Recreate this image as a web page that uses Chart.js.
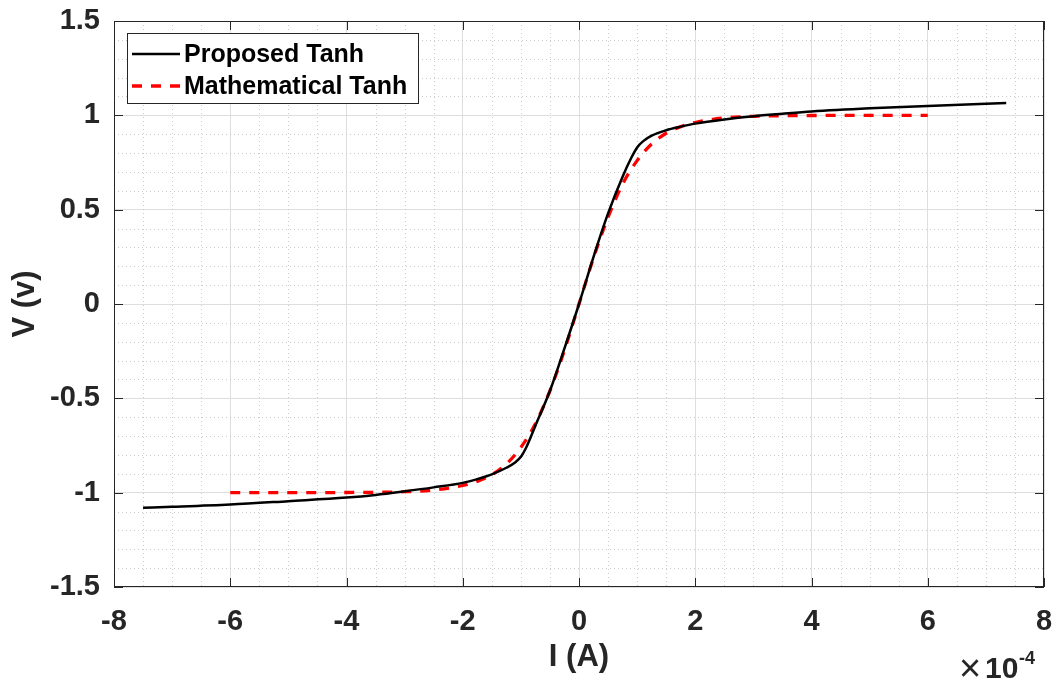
<!DOCTYPE html>
<html>
<head>
<meta charset="utf-8">
<script src="https://cdn.jsdelivr.net/npm/chart.js@4/dist/chart.umd.min.js"></script>
<style>
  html, body { margin: 0; padding: 0; background: #ffffff; }
  #wrap { width: 1059px; height: 684px; }
</style>
</head>
<body>
<div id="wrap"><canvas id="c" width="1059" height="684"></canvas></div>
<script>
// Current (×1e-4 A) and output voltage of the proposed tanh circuit
const xProposed = [-7.5, -7, -6, -5, -4, -3.5, -3, -2.5, -2, -1.75, -1.5, -1.25, -1.1, -1, -0.9, -0.75, -0.5, -0.25, 0,
                   0.25, 0.5, 0.75, 0.9, 1, 1.1, 1.25, 1.5, 1.75, 2, 2.5, 3, 3.5, 4, 5, 6, 7, 7.35];
const yProposed = [-1.08, -1.075, -1.063, -1.045, -1.026, -1.012, -0.993, -0.972, -0.948, -0.928, -0.903, -0.868, -0.84, -0.81, -0.755, -0.645, -0.46, -0.235, 0.0,
                   0.25, 0.48, 0.675, 0.775, 0.83, 0.862, 0.892, 0.921, 0.94, 0.956, 0.978, 0.995, 1.008, 1.02, 1.037, 1.05, 1.062, 1.066];

// Reference curve: mathematical tanh
const xMath = [-6, -5, -4, -3, -2.5, -2, -1.75, -1.5, -1.25, -1, -0.75, -0.5, -0.25, 0,
               0.25, 0.5, 0.75, 1, 1.25, 1.5, 1.75, 2, 2.5, 3, 4, 5, 6];
const yMath = [-1.0, -1.0, -0.999, -0.995, -0.986, -0.962, -0.94, -0.905, -0.848, -0.76, -0.635, -0.46, -0.245, 0,
               0.245, 0.46, 0.635, 0.76, 0.848, 0.905, 0.94, 0.962, 0.986, 0.995, 0.999, 1.0, 1.0];

const seriesNames = ['Proposed Tanh', 'Mathematical Tanh'];

const xTicks = [-8, -6, -4, -2, 0, 2, 4, 6, 8];
const xTickLabels = ['-8', '-6', '-4', '-2', '0', '2', '4', '6', '8'];
const yTicks = [-1.5, -1, -0.5, 0, 0.5, 1, 1.5];
const yTickLabels = ['-1.5', '-1', '-0.5', '0', '0.5', '1', '1.5'];

const xTitle = 'I (A)';
const yTitle = 'V (v)';
const exponentBase = '10';
const exponentPower = '-4';

const FONT = "'Liberation Sans', Arial, Helvetica, sans-serif";
const AXIS_COLOR = '#262626';

const toPoints = (xs, ys) => xs.map((x, i) => ({ x: x, y: ys[i] }));

// Minor grid, axes box with inward ticks, legend and exponent label
const framePlugin = {
  id: 'frame',
  beforeDatasetsDraw(chart) {
    const { ctx, chartArea: a, scales: { x, y } } = chart;
    ctx.save();
    ctx.strokeStyle = '#cacaca';
    ctx.lineWidth = 1;
    ctx.setLineDash([1, 3]);
    for (let i = 0; i <= 32; i++) {
      if (i % 4 === 0) continue;
      const v = -8 + i * 0.5;
      const px = Math.round(x.getPixelForValue(v)) + 0.5;
      ctx.beginPath(); ctx.moveTo(px, a.top); ctx.lineTo(px, a.bottom); ctx.stroke();
    }
    for (let i = 0; i <= 30; i++) {
      if (i % 5 === 0) continue;
      const v = -1.5 + i * 0.1;
      const py = Math.round(y.getPixelForValue(v)) + 0.5;
      ctx.beginPath(); ctx.moveTo(a.left, py); ctx.lineTo(a.right, py); ctx.stroke();
    }
    ctx.restore();
  },
  afterDatasetsDraw(chart) {
    const { ctx, chartArea: a, scales: { x, y } } = chart;
    ctx.save();
    // axes box
    ctx.strokeStyle = AXIS_COLOR;
    ctx.lineWidth = 1;
    ctx.setLineDash([]);
    ctx.strokeRect(a.left + 0.5, a.top + 0.5, a.right - a.left - 1, a.bottom - a.top - 1);
    // inward tick marks on all four sides
    const tl = 9;
    ctx.beginPath();
    xTicks.forEach(v => {
      const px = Math.round(x.getPixelForValue(v)) + 0.5;
      ctx.moveTo(px, a.bottom); ctx.lineTo(px, a.bottom - tl);
      ctx.moveTo(px, a.top); ctx.lineTo(px, a.top + tl);
    });
    yTicks.forEach(v => {
      const py = Math.round(y.getPixelForValue(v)) + 0.5;
      ctx.moveTo(a.left, py); ctx.lineTo(a.left + tl, py);
      ctx.moveTo(a.right, py); ctx.lineTo(a.right - tl, py);
    });
    ctx.stroke();

    // legend
    const lx = 127, ly = 33, lw = 291, lh = 70;
    ctx.fillStyle = '#ffffff';
    ctx.fillRect(lx, ly, lw, lh);
    ctx.strokeStyle = AXIS_COLOR;
    ctx.lineWidth = 1;
    ctx.strokeRect(lx + 0.5, ly + 0.5, lw, lh);
    const rows = [54, 86];
    chart.data.datasets.forEach((ds, i) => {
      const ry = rows[i];
      ctx.strokeStyle = ds.borderColor;
      ctx.lineWidth = ds.borderWidth;
      ctx.setLineDash(ds.borderDash || []);
      ctx.beginPath(); ctx.moveTo(132, ry); ctx.lineTo(180, ry); ctx.stroke();
      ctx.setLineDash([]);
      ctx.fillStyle = '#000000';
      ctx.font = 'bold 25px ' + FONT;
      ctx.textAlign = 'left';
      ctx.textBaseline = 'middle';
      ctx.fillText(ds.label, 184, ry + 1);
    });

    // ×10^-4 exponent label
    ctx.fillStyle = AXIS_COLOR;
    ctx.textBaseline = 'alphabetic';
    ctx.textAlign = 'left';
    ctx.font = '38px ' + FONT;
    ctx.fillText('\u00D7', 959, 681);
    ctx.font = 'bold 30px ' + FONT;
    ctx.fillText(exponentBase, 985, 678);
    ctx.font = 'bold 18px ' + FONT;
    ctx.fillText(exponentPower, 1019, 664);
    ctx.restore();
  }
};

new Chart(document.getElementById('c'), {
  type: 'line',
  data: {
    datasets: [
      {
        label: seriesNames[0],
        data: toPoints(xProposed, yProposed),
        borderColor: '#000000',
        borderWidth: 2.5,
        pointRadius: 0,
        cubicInterpolationMode: 'monotone',
        fill: false
      },
      {
        label: seriesNames[1],
        data: toPoints(xMath, yMath),
        borderColor: '#ff0000',
        borderWidth: 3.3,
        borderDash: [10, 9],
        pointRadius: 0,
        cubicInterpolationMode: 'monotone',
        fill: false
      }
    ]
  },
  options: {
    responsive: false,
    animation: false,
    devicePixelRatio: 1,
    layout: { padding: { top: 21, right: 15, left: 0, bottom: 0 } },
    plugins: { legend: { display: false }, tooltip: { enabled: false } },
    scales: {
      x: {
        type: 'linear',
        min: -8, max: 8,
        afterFit: s => { s.height = 97; s.paddingLeft = 0; s.paddingRight = 0; },
        afterBuildTicks: s => { s.ticks = xTicks.map(v => ({ value: v })); },
        ticks: {
          autoSkip: false,
          maxRotation: 0,
          padding: 18,
          color: AXIS_COLOR,
          font: { family: FONT, size: 29, weight: 'bold' },
          callback: (v, i) => xTickLabels[i]
        },
        grid: { color: '#dedede', lineWidth: 1, drawTicks: false },
        border: { display: false },
        title: {
          display: true,
          text: xTitle,
          color: AXIS_COLOR,
          font: { family: FONT, size: 31, weight: 'bold' },
          padding: { top: 0, bottom: 8 }
        }
      },
      y: {
        type: 'linear',
        min: -1.5, max: 1.5,
        afterFit: s => { s.width = 114; s.paddingTop = 0; s.paddingBottom = 0; },
        afterBuildTicks: s => { s.ticks = yTicks.map(v => ({ value: v })); },
        ticks: {
          autoSkip: false,
          padding: 14,
          color: AXIS_COLOR,
          font: { family: FONT, size: 29, weight: 'bold' },
          callback: (v, i) => yTickLabels[i]
        },
        grid: { color: '#dedede', lineWidth: 1, drawTicks: false },
        border: { display: false },
        title: {
          display: true,
          text: yTitle,
          color: AXIS_COLOR,
          font: { family: FONT, size: 31, weight: 'bold' },
          padding: { top: 7, bottom: 0 }
        }
      }
    }
  },
  plugins: [framePlugin]
});
</script>
</body>
</html>
